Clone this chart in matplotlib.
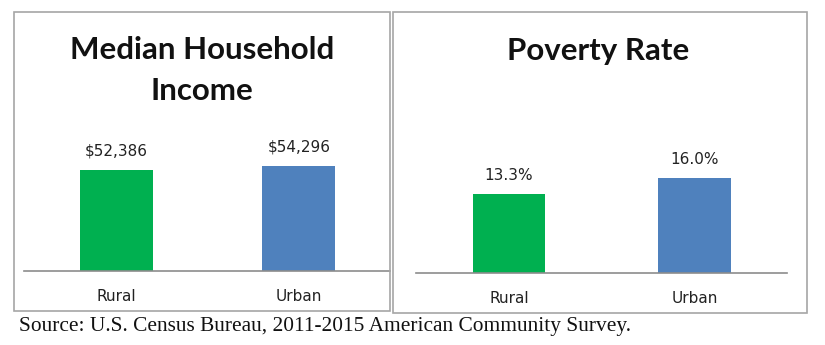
import matplotlib
matplotlib.use("Agg")
import matplotlib.pyplot as plt
from matplotlib.patches import Rectangle

categories = ["Rural", "Urban"]
income = [52386, 54296]
poverty = [13.3, 16.0]
income_labels = ["$52,386", "$54,296"]
poverty_labels = ["13.3%", "16.0%"]
colors = ["#00B050", "#4F81BD"]

W, H = 825, 345
fig = plt.figure(figsize=(W / 100, H / 100), dpi=100)

def fx(px):
    return px / W

def fy(py):
    return 1 - py / H

# panel boxes
for (x0, y0, x1, y1) in [(14, 12, 390, 311), (393, 12, 807, 313)]:
    fig.patches.append(Rectangle((fx(x0), fy(y1)), fx(x1 - x0), (y1 - y0) / H,
                                 transform=fig.transFigure, fill=False,
                                 edgecolor="#A6A6A6", linewidth=1.2))

def panel(ax_px, values, labels, ymax, width, xlim):
    x0, y_top, x1, y_base = ax_px
    ax = fig.add_axes([fx(x0), fy(y_base), fx(x1 - x0), (y_base - y_top) / H])
    xs = list(range(len(categories)))
    ax.bar(xs, values, width=width, color=colors)
    for x, v, l in zip(xs, values, labels):
        ax.annotate(l, (x, v), xytext=(0, 8), textcoords="offset points",
                    ha="center", va="bottom", fontsize=11,
                    family="DejaVu Sans", color="#222222")
    ax.set_xlim(*xlim)
    ax.set_ylim(0, ymax)
    ax.set_xticks(xs)
    ax.set_xticklabels(categories, fontsize=11, color="#222222",
                       family="DejaVu Sans")
    ax.tick_params(axis="x", length=0, pad=13)
    ax.set_yticks([])
    for s in ["top", "left", "right"]:
        ax.spines[s].set_visible(False)
    ax.spines["bottom"].set_color("#8C8C8C")
    ax.spines["bottom"].set_linewidth(1.2)
    ax.patch.set_alpha(0)
    return ax

panel((24, 12, 390, 271), income, income_labels, 54296 * (271 - 12) / 105, 0.4,
      (-0.507, 1.499))
panel((416, 12, 787, 273), poverty, poverty_labels, 16.0 * (273 - 12) / 95, 0.39,
      (-0.501, 1.499))

tfont = dict(fontsize=22.5, fontweight="bold", family="Lato", color="#111111",
             ha="center", va="center")
fig.text(fx(202), fy(50), "Median Household", **tfont)
fig.text(fx(202), fy(91), "Income", **tfont)
fig.text(fx(598), fy(51), "Poverty Rate", **tfont)

fig.text(fx(19), fy(326), "Source: U.S. Census Bureau, 2011-2015 American Community Survey.",
         ha="left", va="center", fontsize=15.4, family="Liberation Serif", color="#111111")

fig.savefig("out.png", dpi=100)
